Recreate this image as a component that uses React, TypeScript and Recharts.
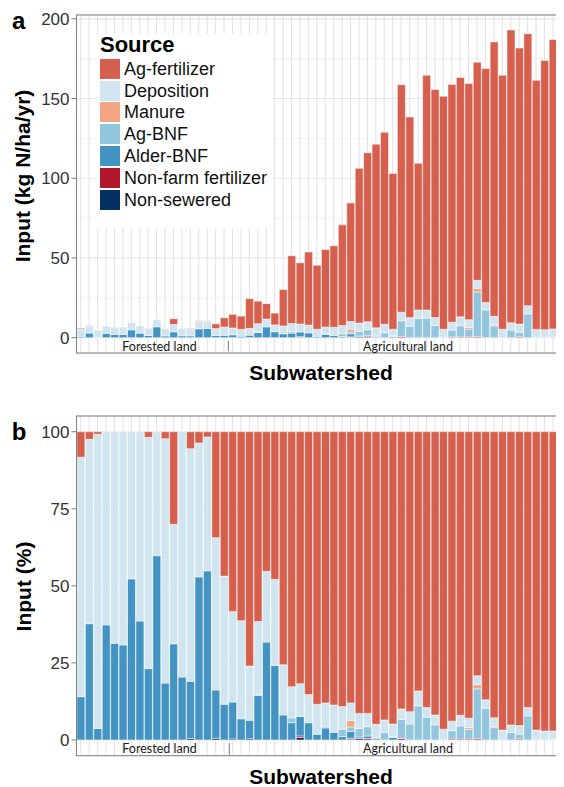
import { Bar, BarChart, CartesianGrid, Legend, XAxis, YAxis } from 'recharts'

// 58 subwatersheds, ordered as in the figure (forested first, then agricultural)
const subwatersheds = Array.from({ length: 58 }, (_, i) => `SW${i + 1}`)

// N inputs, kg N/ha/yr
const agFertilizer = [
  0.5, 0.19, 0.04, 0, 0, 0, 0, 0, 0.11, 0, 0.13, 3.56, 0, 0.32, 0.39, 0.18, 2.99, 5.86, 8.53, 8.29,
  18.6, 14.1, 9.67, 7.39, 22.8, 42.5, 38.4, 45.8, 40.2, 48.6, 51.1, 63.1, 74.4, 97.1, 106.0, 115.2,
  120.5, 97.7, 142.7, 125.8, 92.0, 147.3, 143.0, 146.1, 149.2, 150.1, 148.1, 136.8, 146.8, 172.1,
  159.3, 183.6, 173.1, 170.6, 156.2, 168.9, 181.5, 169.2,
]
const deposition = [
  4.7, 4.6, 4.6, 4.6, 4.5, 4.6, 4.5, 4.5, 4.5, 4.6, 4.6, 4.6, 4.6, 4.4, 4.6, 4.6, 4.3, 5.2, 4.3, 4.3,
  4.3, 5.4, 4.9, 4.3, 4.9, 5.2, 5.0, 4.9, 4.4, 4.3, 5.1, 5.2, 4.8, 5.2, 5.0, 5.1, 5.3, 4.2, 5.4, 5.5,
  5.3, 5.1, 5.0, 5.3, 4.9, 5.7, 4.9, 5.0, 4.6, 5.4, 5.3, 4.6, 5.1, 5.2, 5.2, 5.0, 5.1, 4.8,
]
const manure = [
  0, 0, 0, 0, 0, 0, 0, 0, 0, 0, 0, 0, 0, 0, 0, 0, 0, 0, 0, 0, 0, 0, 0, 0, 0, 0, 0, 0, 0, 0, 0, 0, 1.8,
  0, 0, 0, 0, 0, 0, 0, 0, 0, 0, 0, 0, 0, 1.0, 2.3, 0, 0.6, 0, 0, 0, 0, 0, 0, 0, 0,
]
const agBnf = [
  0, 0, 0, 0, 0, 0, 0, 0, 0, 0, 0, 0, 0, 0, 0, 0, 0, 0, 0, 0, 0, 0.1, 0, 0, 0, 0.8, 0, 0, 0, 0.2, 0,
  1.7, 1.2, 2.9, 3.5, 0.6, 3.1, 0.3, 9.8, 7.2, 12.1, 12.2, 7.6, 0, 4.3, 6.9, 4.9, 28.0, 17.4, 7.4, 0,
  4.8, 2.9, 14.9, 0, 0, 0.4, 2.5,
]
const alderBnf = [
  0.85, 2.9, 0.18, 2.74, 2.06, 2.05, 4.93, 2.83, 1.39, 6.84, 1.07, 3.7, 1.18, 1.08, 5.61, 5.81, 1.36,
  1.45, 1.75, 0.93, 1.47, 3.3, 6.78, 3.73, 2.45, 2.88, 2.96, 3.01, 0.86, 2.15, 1.44, 0.78, 1.86, 0.53,
  0.93, 0.49, 0, 0.82, 0, 0, 0, 0, 0, 0, 0, 0, 0, 0, 0, 0, 0, 0, 0, 0, 0, 0, 0, 0,
]
const nonFarmFertilizer = [
  0, 0, 0, 0, 0, 0, 0, 0, 0, 0, 0, 0, 0, 0, 0, 0, 0, 0, 0, 0, 0, 0, 0, 0, 0, 0, 0.24, 0, 0, 0, 0, 0,
  0.25, 0, 0.58, 0, 0, 0, 0.79, 0, 0, 0, 0, 0, 0.48, 0.49, 0.48, 0.69, 0, 0, 0, 0, 0.54, 0, 0, 0, 0, 0,
]
const nonSewered = [
  0, 0, 0, 0, 0, 0, 0, 0, 0, 0, 0, 0, 0, 0.03, 0, 0, 0.05, 0, 0.05, 0, 0.1, 0, 0, 0, 0, 0, 0.38, 0, 0,
  0, 0, 0, 0.25, 0.53, 0, 0, 0, 0, 0, 0, 0, 0, 0, 0, 0, 0, 0, 0, 0, 0, 0, 0, 0, 0, 0, 0, 0, 0,
]

const absTicks = [0, 50, 100, 150, 200]
const absMinorTicks = [25, 75, 125, 175]
const pctTicks = [0, 25, 50, 75, 100]

// legend order (top of the stack first)
const sources = [
  { key: 'agFertilizer', name: 'Ag-fertilizer', color: '#d6604d', values: agFertilizer },
  { key: 'deposition', name: 'Deposition', color: '#d1e5f0', values: deposition },
  { key: 'manure', name: 'Manure', color: '#f4a582', values: manure },
  { key: 'agBnf', name: 'Ag-BNF', color: '#92c5de', values: agBnf },
  { key: 'alderBnf', name: 'Alder-BNF', color: '#4393c3', values: alderBnf },
  { key: 'nonFarmFertilizer', name: 'Non-farm fertilizer', color: '#b2182b', values: nonFarmFertilizer },
  { key: 'nonSewered', name: 'Non-sewered', color: '#053061', values: nonSewered },
]

const absData = subwatersheds.map((id, i) => {
  const row: Record<string, string | number> = { id }
  sources.forEach((s) => (row[s.key] = s.values[i]))
  return row
})

// same inputs as a share of each subwatershed's total
const pctData = subwatersheds.map((id, i) => {
  const total = sources.reduce((sum, s) => sum + s.values[i], 0)
  const row: Record<string, string | number> = { id }
  sources.forEach((s) => (row[s.key] = (s.values[i] / total) * 100))
  return row
})

const CHART_W = 560
const PLOT_LEFT = 68.5
const PLOT_RIGHT_MARGIN = 2.4
const PLOT_W = CHART_W - PLOT_LEFT - PLOT_RIGHT_MARGIN
const FONT = "'Liberation Sans', Arial, sans-serif"
const NOTE_FONT = 'Lato, sans-serif'

function SourceLegend() {
  return (
    <div style={{ background: '#fff', padding: '0 0 0 3px', width: 175, height: 194, boxSizing: 'border-box' }}>
      <div style={{ fontWeight: 700, fontSize: 22, lineHeight: '22px', marginBottom: 2, color: '#000' }}>
        Source
      </div>
      {sources.map((s) => (
        <div key={s.key} style={{ display: 'flex', alignItems: 'center', height: 21.8 }}>
          <span style={{ width: 20, height: 20, background: s.color, marginRight: 4, flex: 'none' }} />
          <span style={{ fontSize: 18, lineHeight: '20px', color: '#111' }}>{s.name}</span>
        </div>
      ))}
    </div>
  )
}

type PanelProps = {
  top: number
  height: number
  marginTop: number
  marginBottom: number
  rows: Record<string, string | number>[]
  domain: [number, number]
  ticks: number[]
  minorTicks?: number[]
  showLegend?: boolean
}

function InputPanel({ top, height, marginTop, marginBottom, rows, domain, ticks, minorTicks, showLegend }: PanelProps) {
  return (
    <div style={{ position: 'absolute', left: 0, top }}>
      <BarChart
        width={CHART_W}
        height={height}
        data={rows}
        margin={{ top: marginTop, right: PLOT_RIGHT_MARGIN, bottom: marginBottom, left: 0 }}
        barCategoryGap="5%"
      >
        {minorTicks && (
          <CartesianGrid stroke="#ededed" strokeWidth={0.6} vertical={false} horizontalValues={minorTicks} />
        )}
        <CartesianGrid stroke="#e4e4e4" strokeWidth={1.1} />
        <XAxis
          dataKey="id"
          height={0}
          tick={() => <g />}
          tickLine={false}
          axisLine={false}
          interval={0}
        />
        <YAxis
          type="number"
          width={PLOT_LEFT}
          domain={domain}
          ticks={ticks}
          allowDataOverflow
          axisLine={false}
          tickSize={5}
          tickMargin={2}
          tickLine={{ stroke: '#7f7f7f' }}
          tick={{ fill: '#333', fontSize: 17 }}
        />
        {showLegend && (
          <Legend
            layout="vertical"
            align="center"
            verticalAlign="middle"
            wrapperStyle={{ left: 89, top: 26, width: 175 }}
            content={() => <SourceLegend />}
          />
        )}
        {[...sources].reverse().map((s) => (
          <Bar
            key={s.key}
            dataKey={s.key}
            name={s.name}
            stackId="input"
            fill={s.color}
            stroke="#ffffff"
            strokeWidth={0.5}
            isAnimationActive={false}
          />
        ))}
      </BarChart>
    </div>
  )
}

export default function App() {
  return (
    <div style={{ position: 'relative', width: 556, height: 779, overflow: 'hidden', fontFamily: FONT, background: '#fff' }}>
      <InputPanel
        top={0}
        height={350}
        marginTop={7}
        marginBottom={5}
        rows={absData}
        domain={[-9.6, 202.4]}
        ticks={absTicks}
        minorTicks={absMinorTicks}
        showLegend
      />
      <InputPanel
        top={400}
        height={352}
        marginTop={8}
        marginBottom={4.3}
        rows={pctData}
        domain={[-5.1, 105.1]}
        ticks={pctTicks}
      />
      <svg
        width={556}
        height={779}
        style={{ position: 'absolute', left: 0, top: 0, pointerEvents: 'none' }}
        fontFamily={FONT}
      >
        <rect x={PLOT_LEFT} y={7} width={PLOT_W} height={338} fill="none" stroke="#808080" strokeWidth={1} />
        <rect x={PLOT_LEFT} y={408} width={PLOT_W} height={339.7} fill="none" stroke="#808080" strokeWidth={1} />

        <text x={4} y={21} fontSize={24} fontWeight={700}>a</text>
        <text x={3.7} y={432} fontSize={24} fontWeight={700}>b</text>

        <text transform="translate(14.5,168) rotate(-90)" textAnchor="middle" dominantBaseline="central" fontSize={21} fontWeight={700}>
          Input (kg N/ha/yr)
        </text>
        <text transform="translate(15,578.5) rotate(-90)" textAnchor="middle" dominantBaseline="central" fontSize={21} fontWeight={700}>
          Input (%)
        </text>

        <text x={313} y={372} textAnchor="middle" fontSize={21} fontWeight={700}>Subwatershed</text>
        <text x={313} y={776} textAnchor="middle" fontSize={21} fontWeight={700}>Subwatershed</text>

        <g fontFamily={NOTE_FONT} fontSize={12.5} fill="#222" textAnchor="middle">
          <text x={151.5} y={343}>Forested land</text>
          <text x={400} y={342.5}>Agricultural land</text>
          <text x={151.5} y={745}>Forested land</text>
          <text x={400} y={744.7}>Agricultural land</text>
        </g>
        <line x1={220.3} x2={220.3} y1={332.7} y2={343} stroke="#555" strokeWidth={0.8} />
        <line x1={221.3} x2={221.3} y1={735} y2={747} stroke="#555" strokeWidth={0.8} />
      </svg>
    </div>
  )
}
